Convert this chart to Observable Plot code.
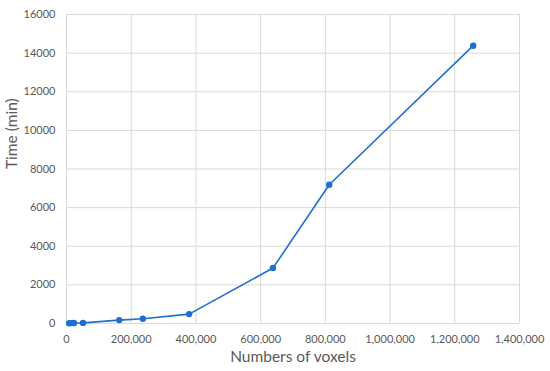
<!DOCTYPE html>
<html>
<head>
<meta charset="utf-8">
<script src="https://cdn.jsdelivr.net/npm/d3@7"></script>
<script src="https://cdn.jsdelivr.net/npm/@observablehq/plot@0.6"></script>
<style>
  html, body { margin: 0; padding: 0; background: #fff; }
  #chart svg { display: block; }
</style>
</head>
<body>
<div id="chart"></div>
<script>
const voxels = [8000, 15000, 23000, 51000, 163000, 236000, 379000, 638000, 812000, 1257000];
const timeMin = [15, 20, 25, 30, 176, 243, 487, 2870, 7185, 14385];
const xTicks = [0, 200000, 400000, 600000, 800000, 1000000, 1200000, 1400000];
const yTicks = [0, 2000, 4000, 6000, 8000, 10000, 12000, 14000, 16000];
const xTitle = "Numbers of voxels";
const yTitle = "Time (min)";

const data = voxels.map((v, i) => ({x: v, y: timeMin[i]}));
const lineColor = "#1f6fcf";
const tickColor = "#595959";

const chart = Plot.plot({
  width: 550,
  height: 371,
  marginLeft: 66,
  marginRight: 31,
  marginTop: 14,
  marginBottom: 48,
  style: {fontFamily: "Lato, 'Open Sans', sans-serif", background: "#fff"},
  x: {domain: [0, 1400000], ticks: xTicks, tickFormat: d3.format(",")},
  y: {domain: [0, 16000], ticks: yTicks, tickFormat: d => String(d)},
  marks: [
    Plot.gridX(xTicks, {stroke: "#d9d9d9", strokeOpacity: 1}),
    Plot.gridY(yTicks, {stroke: "#d9d9d9", strokeOpacity: 1}),
    Plot.axisX(xTicks, {tickSize: 0, tickPadding: 12, fontSize: 11, color: tickColor, label: null, tickFormat: d3.format(",")}),
    Plot.axisY(yTicks, {tickSize: 0, tickPadding: 11, fontSize: 11, color: tickColor, label: null, tickFormat: d => String(d)}),
    Plot.line(data, {x: "x", y: "y", stroke: lineColor, strokeWidth: 1.6}),
    Plot.dot(data, {x: "x", y: "y", fill: lineColor, r: 3.2}),
    Plot.text([xTitle], {frameAnchor: "bottom", dy: 38, fontSize: 15.5, fill: "#595959"}),
    Plot.text([yTitle], {frameAnchor: "left", dx: -54, rotate: -90, fontSize: 15.5, fill: "#595959"})
  ]
});
document.getElementById("chart").appendChild(chart);
</script>
</body>
</html>
